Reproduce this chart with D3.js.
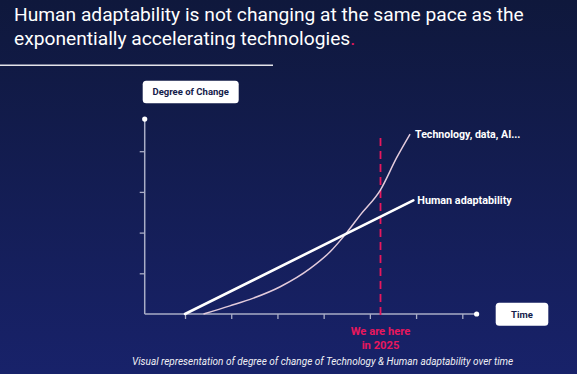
<!DOCTYPE html>
<html><head><meta charset="utf-8">
<script src="https://cdn.jsdelivr.net/npm/d3@7"></script>
<style>html,body{margin:0;padding:0;background:#101a3f;}svg{display:block;font-family:Roboto,"Open Sans",sans-serif;}</style>
</head><body>
<svg id="c" width="577" height="374"></svg>
<script>
// ---- data ----
const titleLines = ["Human adaptability is not changing at the same pace as the", "exponentially accelerating technologies"];
const xTicks = [1, 2, 3, 4, 5, 6, 7];
const yTicks = [1, 2, 3, 4];
const humanX = [1.0, 5.94];
const humanY = [0, 2.79];
const techX = [1.40, 1.97, 2.48, 3.06, 3.71, 4.14, 4.50, 4.79, 5.23, 5.58, 5.87];
const techY = [0, 0.20, 0.39, 0.67, 1.12, 1.53, 2.00, 2.43, 3.05, 3.84, 4.42];
const nowX = 5.23;
const seriesLabels = ["Technology, data, AI...", "Human adaptability"];
const axisLabels = ["Degree of Change", "Time"];
const nowLabel = ["We are here", "in 2025"];
const caption = "Visual representation of degree of change of Technology & Human adaptability over time";

const svg = d3.select("#c");
const defs = svg.append("defs");
const g = defs.append("linearGradient").attr("id","bg").attr("x1",0).attr("y1",0).attr("x2",0).attr("y2",1);
g.append("stop").attr("offset","0%").attr("stop-color","#0f183c");
g.append("stop").attr("offset","100%").attr("stop-color","#18226a");
svg.append("rect").attr("width",577).attr("height",374).attr("fill","url(#bg)");

// title
const t = svg.append("text").attr("fill","#fff").attr("font-size",19.2);
t.append("tspan").attr("x",14).attr("y",21).text(titleLines[0]);
t.append("tspan").attr("x",14).attr("y",45).text(titleLines[1]);
t.append("tspan").attr("fill","#e8175d").text(".");
svg.append("line").attr("x1",0).attr("x2",273).attr("y1",65.3).attr("y2",65.3).attr("stroke","#e4e4ea").attr("stroke-width",1.6);

// scales
const x = d3.scaleLinear().domain([0,7]).range([138.8, 462.3]);
const y = d3.scaleLinear().domain([0,5]).range([314, 110.5]);
const x0 = 0.128, xEnd = 7.31, yEnd = 4.79;
const axCol = "#a9adc6";

// axes
const xa = svg.append("g").attr("transform",`translate(0,${y(0)})`)
  .call(d3.axisBottom(x).tickValues(xTicks).tickSize(5).tickFormat(""));
xa.select(".domain").remove();
xa.selectAll("line").attr("stroke",axCol).attr("stroke-width",1.3);
const ya = svg.append("g").attr("transform",`translate(${x(x0)},0)`)
  .call(d3.axisLeft(y).tickValues(yTicks).tickSize(5).tickFormat(""));
ya.select(".domain").remove();
ya.selectAll("line").attr("stroke",axCol).attr("stroke-width",1.3);
svg.append("line").attr("x1",x(x0)).attr("x2",x(xEnd)).attr("y1",y(0)).attr("y2",y(0)).attr("stroke",axCol).attr("stroke-width",1.5);
svg.append("line").attr("x1",x(x0)).attr("x2",x(x0)).attr("y1",y(0)).attr("y2",y(yEnd)).attr("stroke",axCol).attr("stroke-width",1.5);
svg.append("circle").attr("cx",x(xEnd)).attr("cy",y(0)).attr("r",2.6).attr("fill","#fff");
svg.append("circle").attr("cx",x(x0)).attr("cy",y(yEnd)).attr("r",2.6).attr("fill","#fff");

// now marker
svg.append("line").attr("x1",x(nowX)).attr("x2",x(nowX)).attr("y1",138).attr("y2",y(0)+2)
  .attr("stroke","#e8175d").attr("stroke-width",1.8).attr("stroke-dasharray","8,5");
svg.append("text").attr("fill","#e8175d").attr("font-weight","bold").attr("font-size",11.2).attr("text-anchor","middle")
  .attr("x",x(nowX)).attr("y",335).text(nowLabel[0]);
svg.append("text").attr("fill","#e8175d").attr("font-weight","bold").attr("font-size",11.2).attr("text-anchor","middle")
  .attr("x",x(nowX)).attr("y",348.5).text(nowLabel[1]);

// series
const tech = techX.map((v,i)=>[v,techY[i]]);
svg.append("path").attr("d",d3.line().x(d=>x(d[0])).y(d=>y(d[1])).curve(d3.curveMonotoneX)(tech))
  .attr("fill","none").attr("stroke","#e3cbdc").attr("stroke-width",1.5);
const human = humanX.map((v,i)=>[v,humanY[i]]);
svg.append("path").attr("d",d3.line().x(d=>x(d[0])).y(d=>y(d[1]))(human)).attr("fill","none").attr("stroke","#fff").attr("stroke-width",2.6).attr("stroke-linecap","round");

svg.append("text").attr("x",x(techX[techX.length-1])+5).attr("y",y(techY[techY.length-1])+3.8)
  .attr("fill","#fff").attr("font-weight","bold").attr("font-size",10.6).text(seriesLabels[0]);
svg.append("text").attr("x",x(humanX[1])+4).attr("y",y(humanY[1])+3.8)
  .attr("fill","#fff").attr("font-weight","bold").attr("font-size",10.8).text(seriesLabels[1]);

// axis label boxes
function box(x1,y1,w,h,label){
  svg.append("rect").attr("x",x1).attr("y",y1).attr("width",w).attr("height",h).attr("rx",3.5).attr("fill","#fff");
  svg.append("text").attr("x",x1+w/2).attr("y",y1+h/2+3.4).attr("text-anchor","middle").attr("fill","#14204a")
    .attr("font-weight","bold").attr("font-size",9.5).text(label);
}
box(142.7,80.7,96,22.6,axisLabels[0]);
box(495.7,302.7,52.6,23,axisLabels[1]);

// caption
svg.append("text").attr("x",132).attr("y",364.5).attr("fill","#f0f0f5").attr("font-style","italic").attr("font-size",10).text(caption);
</script>
</body></html>
